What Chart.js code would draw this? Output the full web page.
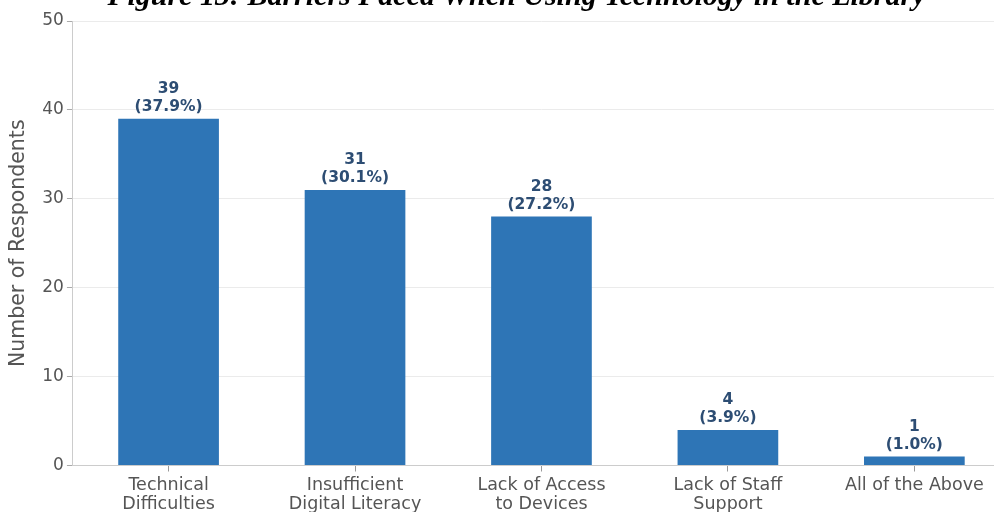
<!DOCTYPE html>
<html lang="en">
<head>
  <meta charset="UTF-8" />
  <title>Barriers Faced When Using Technology in the Library</title>
  <style>
    html, body {
      margin: 0;
      padding: 0;
      background: white;
      overflow: hidden;
      width: 994px;
      height: 512px;
    }

    .chart-box {
      position: absolute;
      left: 0;
      top: 0;
    }
  </style>
</head>
<body>

<div class="chart-box">
  <canvas id="barrierChart" width="1016" height="518"></canvas>
</div>

<script src="https://cdn.jsdelivr.net/npm/chart.js"></script>
<script>
const categories = [
  ['Technical', 'Difficulties'],
  ['Insufficient', 'Digital Literacy'],
  ['Lack of Access', 'to Devices'],
  ['Lack of Staff', 'Support'],
  'All of the Above'
];
const counts = [39, 31, 28, 4, 1];
const percents = ['37.9%', '30.1%', '27.2%', '3.9%', '1.0%'];
const yTicks = [0, 10, 20, 30, 40, 50];

const chartTitle = 'Figure 13: Barriers Faced When Using Technology in the Library';

// figure title, mostly cropped off at the top of the picture
const figureTitle = {
  id: 'figureTitle',
  afterDraw(chart) {
    const ctx = chart.ctx;
    const area = chart.chartArea;
    ctx.save();
    ctx.font = 'italic bold 30px "Liberation Serif"';
    ctx.fillStyle = '#000';
    ctx.textAlign = 'center';
    ctx.textBaseline = 'alphabetic';
    ctx.fillText(chartTitle, (area.left + area.right) / 2 - 25, 5);
    ctx.restore();
  }
};

// value + percentage above each bar
const barLabels = {
  id: 'barLabels',
  afterDatasetsDraw(chart) {
    const ctx = chart.ctx;
    const meta = chart.getDatasetMeta(0);
    ctx.save();
    ctx.font = 'bold 15.5px "DejaVu Sans"';
    ctx.fillStyle = '#2d4d73';
    ctx.textAlign = 'center';
    ctx.textBaseline = 'middle';
    meta.data.forEach((bar, i) => {
      ctx.fillText(String(counts[i]), bar.x, bar.y - 30);
      ctx.fillText('(' + percents[i] + ')', bar.x, bar.y - 12);
    });
    ctx.restore();
  }
};

const ctx = document.getElementById('barrierChart').getContext('2d');

new Chart(ctx, {
  type: 'bar',
  data: {
    datasets: [{
      data: counts.map((v, i) => ({ x: i, y: v })),
      backgroundColor: '#2e75b6',
      borderWidth: 0,
      barPercentage: 0.54,
      categoryPercentage: 1
    }]
  },
  options: {
    responsive: false,
    animation: false,
    layout: {
      padding: { left: 0, right: 6, top: 21, bottom: 0 }
    },
    plugins: {
      legend: { display: false },
      tooltip: { enabled: false },
      title: { display: false }
    },
    scales: {
      x: {
        type: 'linear',
        min: -0.513,
        max: 4.513,
        offset: false,
        afterBuildTicks(axis) {
          axis.ticks = categories.map((c, i) => ({ value: i }));
        },
        grid: {
          display: true,
          offset: false,
          drawOnChartArea: false,
          tickLength: 6,
          tickColor: '#999'
        },
        border: { color: '#ccc' },
        ticks: {
          color: '#555',
          maxRotation: 0,
          autoSkip: false,
          padding: 4,
          font: { family: '"DejaVu Sans"', size: 17.5, lineHeight: 1.1 },
          callback: value => categories[value]
        }
      },
      y: {
        min: 0,
        max: 50,
        afterBuildTicks(axis) {
          axis.ticks = yTicks.map(v => ({ value: v }));
        },
        grid: {
          color: '#ebebeb',
          tickLength: 6,
          tickColor: '#aaa'
        },
        border: { color: '#ccc' },
        ticks: {
          color: '#555',
          padding: 3,
          font: { family: '"DejaVu Sans"', size: 17 }
        },
        title: {
          display: true,
          text: 'Number of Respondents',
          color: '#555',
          padding: { top: 6, bottom: 8.7 },
          font: { family: '"DejaVu Sans"', size: 20.5 }
        }
      }
    }
  },
  plugins: [barLabels, figureTitle]
});
</script>
</body>
</html>
